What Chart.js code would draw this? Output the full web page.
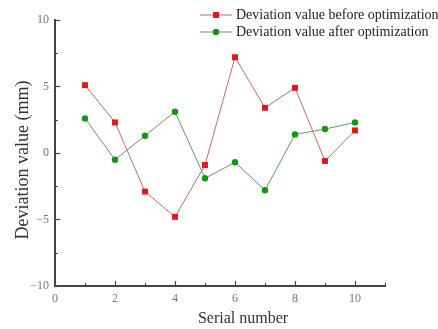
<!DOCTYPE html>
<html>
<head>
<meta charset="utf-8">
<script src="https://cdn.jsdelivr.net/npm/chart.js@4"></script>
<style>
    html, body { margin: 0; padding: 0; background: #fff; }
    .wrap { width: 438px; height: 329px; }
</style>
</head>
<body>
<div class="wrap"><canvas id="myChart"></canvas></div>
<script>
const serials = [1, 2, 3, 4, 5, 6, 7, 8, 9, 10]
const beforeOpt = [5.1, 2.3, -2.9, -4.8, -0.9, 7.2, 3.4, 4.9, -0.6, 1.7]
const afterOpt = [2.6, -0.5, 1.3, 3.1, -1.9, -0.7, -2.8, 1.4, 1.8, 2.3]
const xLabels = [0, 2, 4, 6, 8, 10]
const yLabels = [-10, -5, 0, 5, 10]
const xTitle = 'Serial number'
const yTitle = 'Deviation value (mm)'

const serif = "'Liberation Serif', 'Times New Roman', serif"
const axisColor = '#444'

// legend (line + marker), axis titles and the short minor ticks
const extras = {
    id: 'extras',
    afterDraw(chart) {
        const ctx = chart.ctx
        const xs = chart.scales.x
        const ys = chart.scales.y
        ctx.save()

        // minor ticks, inward
        ctx.strokeStyle = axisColor
        ctx.lineWidth = 1
        xs.ticks.forEach(t => {
            if (xLabels.includes(t.value)) return
            const px = Math.round(xs.getPixelForValue(t.value)) + 0.5
            ctx.beginPath()
            ctx.moveTo(px, xs.top)
            ctx.lineTo(px, xs.top - 3)
            ctx.stroke()
        })
        ys.ticks.forEach(t => {
            if (yLabels.includes(t.value)) return
            const py = Math.round(ys.getPixelForValue(t.value)) + 0.5
            ctx.beginPath()
            ctx.moveTo(ys.right, py)
            ctx.lineTo(ys.right + 3, py)
            ctx.stroke()
        })

        // axis titles
        ctx.fillStyle = '#333'
        ctx.textAlign = 'center'
        ctx.textBaseline = 'middle'
        ctx.font = '16px ' + serif
        ctx.fillText(xTitle, 243, 319)
        ctx.save()
        ctx.translate(23, 160)
        ctx.rotate(-Math.PI / 2)
        ctx.font = '18px ' + serif
        ctx.fillText(yTitle, 0, 0)
        ctx.restore()

        // legend
        chart.data.datasets.forEach((ds, i) => {
            const y = 15 + i * 17
            ctx.strokeStyle = ds.borderColor
            ctx.lineWidth = 1
            ctx.beginPath()
            ctx.moveTo(200, y)
            ctx.lineTo(232, y)
            ctx.stroke()
            ctx.fillStyle = ds.pointBackgroundColor
            ctx.beginPath()
            if (ds.pointStyle === 'rect') {
                ctx.rect(213, y - 3, 6, 6)
            } else {
                ctx.arc(216, y, 3.2, 0, Math.PI * 2)
            }
            ctx.fill()
            ctx.fillStyle = '#222'
            ctx.font = '14px ' + serif
            ctx.textAlign = 'left'
            ctx.fillText(ds.label, 236, y)
        })
        ctx.restore()
    }
}

const ctx = document.getElementById('myChart')

new Chart(ctx, {
    type: 'line',
    data: {
        datasets: [{
            label: 'Deviation value before optimization',
            data: serials.map((s, i) => ({ x: s, y: beforeOpt[i] })),
            borderColor: '#c86a6a',
            borderWidth: 1,
            pointStyle: 'rect',
            pointRadius: 4.2,
            pointBackgroundColor: '#e8141a',
            pointBorderWidth: 0
        }, {
            label: 'Deviation value after optimization',
            data: serials.map((s, i) => ({ x: s, y: afterOpt[i] })),
            borderColor: '#5e9e5e',
            borderWidth: 1,
            pointStyle: 'circle',
            pointRadius: 3.2,
            pointBackgroundColor: '#129612',
            pointBorderWidth: 0
        }]
    },
    options: {
        animation: false,
        maintainAspectRatio: false,
        responsive: true,
        layout: { padding: { top: 20, right: 53, left: 0, bottom: 0 } },
        plugins: { legend: { display: false }, tooltip: { enabled: false } },
        scales: {
            x: {
                type: 'linear',
                min: 0,
                max: 11,
                ticks: {
                    stepSize: 1,
                    padding: 11,
                    color: '#777',
                    font: { family: serif, size: 12 },
                    callback: v => xLabels.includes(v) ? String(v) : ''
                },
                grid: {
                    drawOnChartArea: false, drawTicks: true, tickLength: -5, tickWidth: 1.2,
                    tickColor: c => xLabels.includes(c.tick.value) ? axisColor : 'rgba(0,0,0,0)'
                },
                border: { color: axisColor, width: 2 },
                afterFit: scale => { scale.height = 43 }
            },
            y: {
                min: -10,
                max: 10,
                ticks: {
                    stepSize: 2.5,
                    padding: 11,
                    color: '#777',
                    font: { family: serif, size: 12 },
                    callback: v => yLabels.includes(v) ? String(v).replace('-', '\u2212') : ''
                },
                grid: {
                    drawOnChartArea: false, drawTicks: true, tickLength: -5, tickWidth: 1.2,
                    tickColor: c => yLabels.includes(c.tick.value) ? axisColor : 'rgba(0,0,0,0)'
                },
                border: { color: axisColor, width: 2 },
                afterFit: scale => { scale.width = 55 }
            }
        }
    },
    plugins: [extras]
})
</script>
</body>
</html>
